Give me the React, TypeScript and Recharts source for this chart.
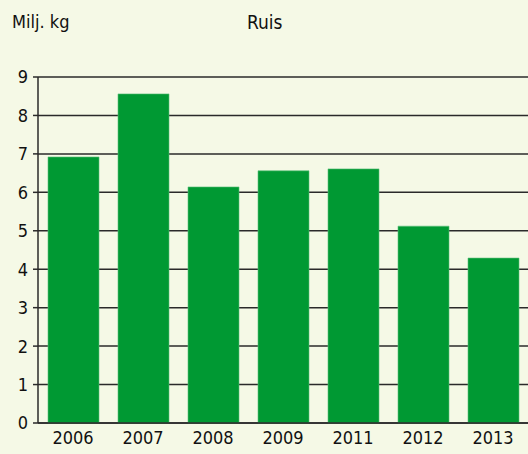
import { BarChart, Bar, XAxis, YAxis, CartesianGrid } from 'recharts'

const YEARS = ['2006', '2007', '2008', '2009', '2011', '2012', '2013']
const RUIS = [6.92, 8.56, 6.14, 6.56, 6.61, 5.12, 4.29]
const Y_TICKS = [0, 1, 2, 3, 4, 5, 6, 7, 8, 9]

const FONT = '"DejaVu Sans Condensed", "DejaVu Sans", sans-serif'

export default function App() {
  const data = YEARS.map((year, i) => ({ year, value: RUIS[i] }))

  return (
    <div
      style={{
        position: 'absolute',
        left: 0,
        top: 0,
        width: 528,
        height: 454,
        background: '#f5f9e6',
        fontFamily: FONT,
        overflow: 'hidden',
      }}
    >
      <div style={{ position: 'absolute', left: 12, top: 11, fontSize: 18, color: '#111' }}>Milj. kg</div>
      <div style={{ position: 'absolute', left: 247, top: 11, fontSize: 19, color: '#111' }}>Ruis</div>
      <BarChart
        width={528}
        height={454}
        data={data}
        margin={{ top: 77, right: 0, bottom: 0, left: 0 }}
        barSize={51}
      >
        <CartesianGrid vertical={false} stroke="#2a2a2a" strokeWidth={1.5} />
        <XAxis
          dataKey="year"
          height={31}
          tickLine={false}
          axisLine={{ stroke: '#2a2a2a', strokeWidth: 1.5 }}
          tick={{ fontSize: 18, fill: '#111', fontFamily: FONT }}
          tickMargin={2}
          interval={0}
        />
        <YAxis
          width={38}
          domain={[0, 9]}
          ticks={Y_TICKS}
          interval={0}
          tickSize={5}
          tickMargin={5}
          tickLine={{ stroke: '#2a2a2a', strokeWidth: 1.5 }}
          axisLine={{ stroke: '#2a2a2a', strokeWidth: 1.5 }}
          tick={{ fontSize: 18, fill: '#111', fontFamily: FONT }}
        />
        <Bar dataKey="value" fill="#009933" stroke="#5cbf7a" strokeWidth={0.6} isAnimationActive={false} />
      </BarChart>
    </div>
  )
}
